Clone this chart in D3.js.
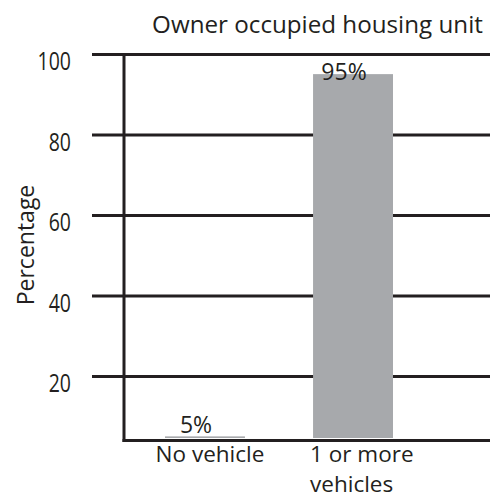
<!DOCTYPE html>
<html>
<head>
<meta charset="utf-8">
<script src="https://cdn.jsdelivr.net/npm/d3@7"></script>
<style>
  body { margin: 0; background: #fff; }
  text { font-family: "Open Sans", "Noto Sans", sans-serif; fill: #231f20; }
</style>
</head>
<body>
<div class="chart"></div>
<script>
const categories = ["No vehicle", "1 or more vehicles"];
const catLines = [["No vehicle"], ["1 or more", "vehicles"]];
const values = [5, 95];
const valueLabels = ["5%", "95%"];
const tickValues = [20, 40, 60, 80, 100];

const width = 490;
const height = 497;
const ink = "#231f20";
const barColor = "#a7a9ac";

const svg = d3.select('.chart').append('svg')
	.attr('width', width)
	.attr('height', height);

// y positions calibrated to the grid lines
const yScale = d3.scaleLinear()
	.domain([20, 100])
	.range([376, 54]);

const xScale = d3.scaleBand()
	.domain(categories)
	.range([165, 393])
	.paddingInner(0.46);

const plotLeft = 124;
const baseY = 440.5;
const gridLeft = 92;

// grid + tick labels
const squeeze = 0.78;
const yAxis = d3.axisLeft(yScale)
	.tickValues(tickValues)
	.tickSize(-(width - gridLeft))
	.tickPadding(21 / squeeze);

const gy = svg.append('g')
	.attr('class', 'axis y-axis')
	.attr('transform', `translate(${gridLeft},0)`)
	.call(yAxis);

gy.select('.domain').remove();
gy.selectAll('.tick line')
	.attr('stroke', ink)
	.attr('stroke-width', 3);
gy.selectAll('.tick text')
	.attr('fill', ink)
	.attr('font-size', '25px')
	.attr('dy', '0.62em')
	.attr('transform', `scale(${squeeze},1)`)
	.style('font-family', '"Open Sans", sans-serif');

// bars
svg.selectAll('.bar')
	.data(values)
	.enter()
	.append('rect')
	.attr('class', 'bar')
	.attr('x', (d, i) => xScale(categories[i]))
	.attr('width', xScale.bandwidth())
	.attr('y', d => yScale(d))
	.attr('height', d => baseY - 2.5 - yScale(d))
	.attr('fill', barColor);

// axis frame
svg.append('line')
	.attr('x1', plotLeft).attr('x2', plotLeft)
	.attr('y1', 54).attr('y2', baseY + 1.5)
	.attr('stroke', ink).attr('stroke-width', 3);

svg.append('line')
	.attr('x1', plotLeft - 1.5).attr('x2', width)
	.attr('y1', baseY).attr('y2', baseY)
	.attr('stroke', ink).attr('stroke-width', 3);

// value labels (kept clear of the top grid line)
svg.selectAll('.label')
	.data(values)
	.enter()
	.append('text')
	.attr('class', 'label')
	.attr('x', (d, i) => xScale(categories[i]) + xScale.bandwidth() / 2 - 9)
	.attr('y', d => Math.max(yScale(d) - 3, yScale(100) + 26))
	.attr('text-anchor', 'middle')
	.attr('font-size', '23px')
	.text((d, i) => valueLabels[i]);

// category labels
svg.selectAll('.cat')
	.data(categories)
	.enter()
	.append('text')
	.attr('class', 'cat')
	.attr('x', (d, i) => i === 0 ? xScale(d) + xScale.bandwidth() / 2 + 5 : xScale(d) - 3)
	.attr('y', 462)
	.attr('text-anchor', (d, i) => i === 0 ? 'middle' : 'start')
	.attr('font-size', '22.5px')
	.selectAll('tspan')
	.data((d, i) => catLines[i])
	.enter()
	.append('tspan')
	.attr('x', function() { return this.parentNode.getAttribute('x'); })
	.attr('dy', (d, i) => i === 0 ? 0 : 29.5)
	.text(d => d);

// titles
svg.append('text')
	.attr('x', 317.5)
	.attr('y', 33)
	.attr('text-anchor', 'middle')
	.attr('font-size', '24.2px')
	.text('Owner occupied housing unit');

svg.append('text')
	.attr('transform', 'translate(34,245) rotate(-90)')
	.attr('text-anchor', 'middle')
	.attr('font-size', '23px')
	.text('Percentage');
</script>
</body>
</html>
